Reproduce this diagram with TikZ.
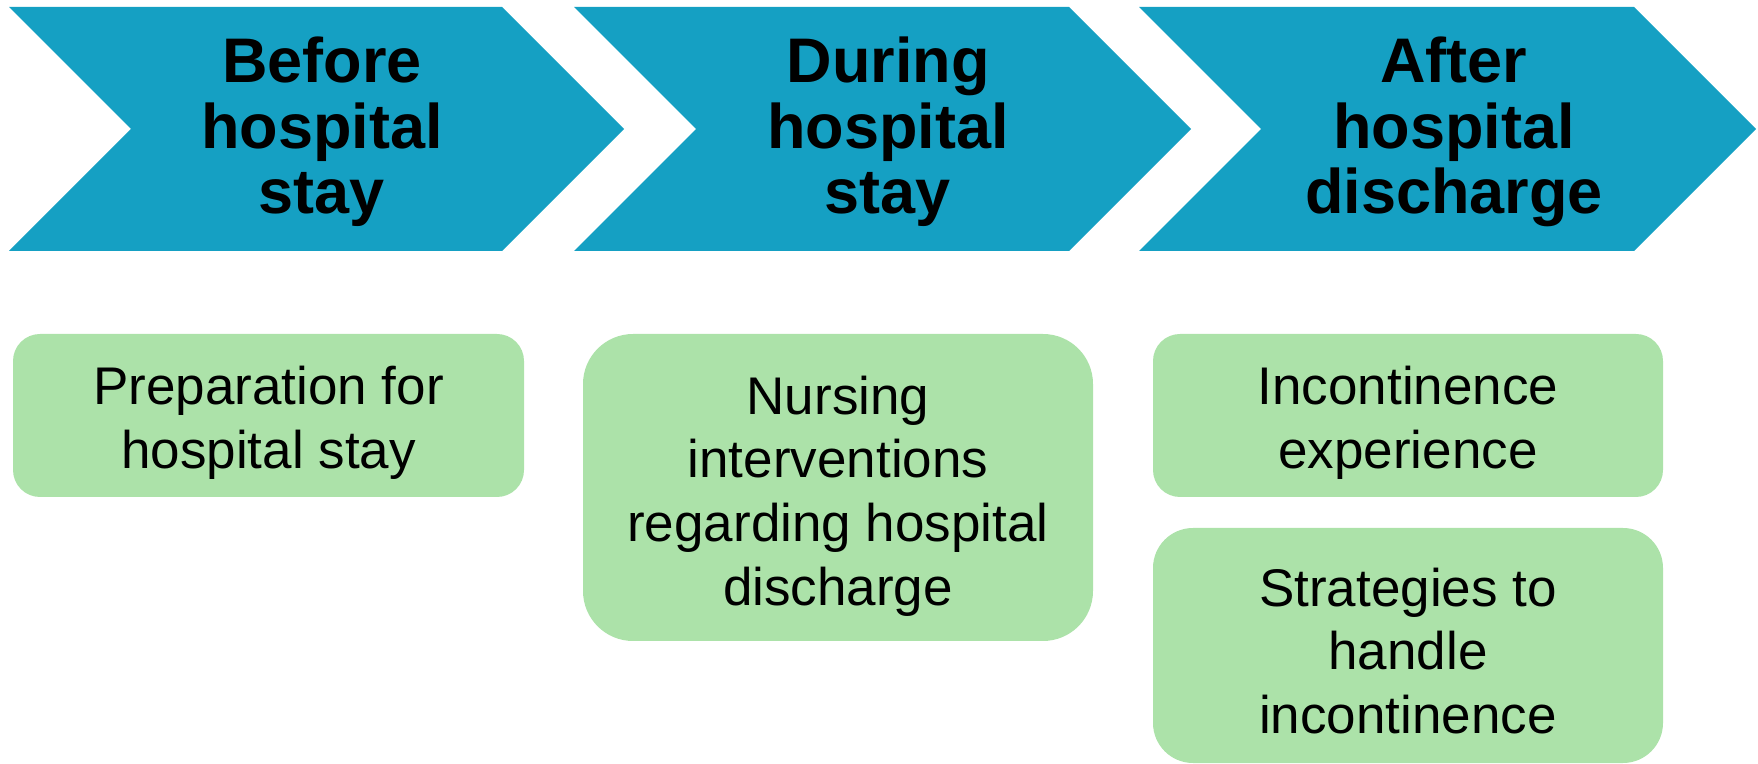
\documentclass[tikz,border=0pt]{standalone}
\usepackage{fontspec}
\setmainfont{Liberation Sans}
\definecolor{teal1}{HTML}{15A0C3}
\definecolor{green1}{HTML}{ACE2A9}
\tikzset{
  chev/.style={fill=teal1, draw=none},
  chevtext/.style={align=center, text=black, inner sep=0pt,
    font=\fontsize{31.5}{32.8}\selectfont\bfseries},
  gbox/.style={fill=green1, draw=none},
  gtext/.style={align=center, text=black, inner sep=0pt,
    font=\fontsize{26.5}{31.8}\selectfont}
}
\begin{document}
\begin{tikzpicture}[x=0.5pt,y=-0.5pt]
\useasboundingbox (0,0) rectangle (1758,764);
% chevrons
\fill[chev] (9,7) -- (502,7) -- (624,129) -- (502,251) -- (9,251) -- (131,129) -- cycle;
\fill[chev] (574,7) -- (1069,7) -- (1191,129) -- (1069,251) -- (574,251) -- (696,129) -- cycle;
\fill[chev] (1139,7) -- (1634,7) -- (1756,129) -- (1634,251) -- (1139,251) -- (1261,129) -- cycle;
\node[chevtext] (t1) at (322,132) {Before\\hospital\\stay};
\node[chevtext] (t2) at (888,132) {During\\hospital\\stay};
\node[chevtext] (t3) at (1454,132) {After\\hospital\\discharge};
% green boxes
\fill[gbox, rounded corners=13.5pt] (13,334) rectangle (524,497);
\fill[gbox, rounded corners=25pt] (583,334) rectangle (1093,641);
\fill[gbox, rounded corners=13.5pt] (1153,334) rectangle (1663,497);
\fill[gbox, rounded corners=20pt] (1153,528) rectangle (1663,763);
\node[gtext] (g1) at (268.5,423) {Preparation for\\hospital stay};
\node[gtext] (g2) at (838,496) {Nursing\\interventions\\regarding hospital\\discharge};
\node[gtext] (g3) at (1408,423) {Incontinence\\experience};
\node[gtext] (g4) at (1408,651) {Strategies to\\handle\\incontinence};
\end{tikzpicture}
\end{document}
